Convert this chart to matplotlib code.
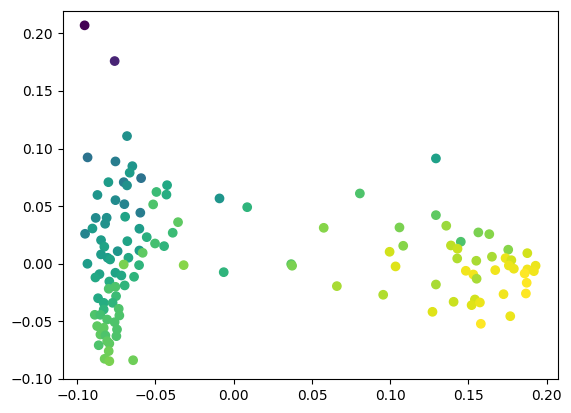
import numpy as np
import matplotlib
matplotlib.use('Agg')
import matplotlib.pyplot as plt

# 2-D projection coordinates
x = [-0.0953, -0.0761, -0.0682, -0.0934, -0.0756, -0.0648, -0.0665, -0.0592, -0.0703, -0.0682,
     -0.0801, -0.0426, -0.0494, -0.0430, -0.0871, -0.0756, -0.0699, -0.0515, -0.0597, -0.0694,
     -0.0882, -0.0812, -0.0822, -0.0903, -0.0950, -0.0603, -0.0356, -0.0390, -0.0556, -0.0848,
     -0.0680, -0.0503, -0.0445, -0.0827, -0.0742, -0.0603, -0.0582, -0.0848, -0.0806, -0.0790,
     -0.0673, -0.0703, -0.0605, -0.0935, -0.0320,
     -0.0858, -0.0884, -0.0756, -0.0718, -0.0637, -0.0795, -0.0756, -0.0799, -0.0697, -0.0752,
     -0.0867, -0.0831, -0.0774, -0.0735, -0.0731, -0.0831, -0.0888, -0.0852, -0.0809, -0.0761,
     -0.0873, -0.0831, -0.0746, -0.0852, -0.0820, -0.0750, -0.0809, -0.0863, -0.0795, -0.0799,
     -0.0825, -0.0795, -0.0643,
     -0.0091, 0.0086, 0.0806, 0.0575, 0.1059, 0.1083, 0.0996, 0.1034, -0.0064, 0.0367,
     0.0373, 0.0659, 0.0955,
     0.1292, 0.1292, 0.1358, 0.1451, 0.1563, 0.1633, 0.1388, 0.1430, 0.1428, 0.1550,
     0.1650, 0.1754, 0.1876, 0.1737, 0.1774, 0.1758, 0.1790, 0.1671, 0.1483, 0.1531,
     0.1552, 0.1929, 0.1876, 0.1918, 0.1859, 0.1872, 0.1867, 0.1724, 0.1292, 0.1405,
     0.1541, 0.1520, 0.1573, 0.1270, 0.1767, 0.1579]

y = [0.2069, 0.1759, 0.1108, 0.0923, 0.0888, 0.0847, 0.0790, 0.0743, 0.0708, 0.0680,
     0.0708, 0.0682, 0.0623, 0.0600, 0.0597, 0.0552, 0.0517, 0.0515, 0.0443, 0.0408,
     0.0398, 0.0399, 0.0347, 0.0306, 0.0260, 0.0304, 0.0361, 0.0269, 0.0231, 0.0205,
     0.0196, 0.0176, 0.0153, 0.0148, 0.0109, 0.0115, 0.0095, 0.0081, 0.0052, 0.0037,
     0.0052, -0.0006, -0.0012, 0.0000, -0.0012,
     -0.0090, -0.0119, -0.0078, -0.0102, -0.0113, -0.0154, -0.0200, -0.0217, -0.0188, -0.0281,
     -0.0299, -0.0339, -0.0339, -0.0391, -0.0449, -0.0397, -0.0443, -0.0443, -0.0484, -0.0507,
     -0.0541, -0.0556, -0.0570, -0.0614, -0.0622, -0.0628, -0.0672, -0.0707, -0.0692, -0.0758,
     -0.0825, -0.0845, -0.0837,
     0.0567, 0.0491, 0.0610, 0.0312, 0.0315, 0.0156, 0.0104, -0.0023, -0.0073, -0.0003,
     -0.0017, -0.0194, -0.0269,
     0.0914, 0.0422, 0.0330, 0.0191, 0.0272, 0.0257, 0.0159, 0.0130, 0.0046, 0.0026,
     0.0061, 0.0122, 0.0092, 0.0049, 0.0031, -0.0015, -0.0043, -0.0055, -0.0061, -0.0093,
     -0.0130, -0.0017, -0.0049, -0.0064, -0.0084, -0.0165, -0.0258, -0.0264, -0.0180, -0.0330,
     -0.0310, -0.0359, -0.0336, -0.0417, -0.0455, -0.0521]

# colour value (0..1 on viridis) estimated per point
c = [0.00, 0.10, 0.50, 0.38, 0.42, 0.52, 0.55, 0.38, 0.42, 0.50,
     0.55, 0.60, 0.68, 0.62, 0.52, 0.48, 0.45, 0.72, 0.42, 0.58,
     0.48, 0.50, 0.50, 0.55, 0.45, 0.55, 0.75, 0.68, 0.63, 0.55,
     0.58, 0.70, 0.65, 0.58, 0.52, 0.55, 0.75, 0.55, 0.55, 0.58,
     0.60, 0.80, 0.65, 0.55, 0.82,
     0.58, 0.60, 0.58, 0.60, 0.65, 0.62, 0.72, 0.72, 0.65, 0.68,
     0.60, 0.62, 0.65, 0.72, 0.72, 0.65, 0.72, 0.70, 0.72, 0.72,
     0.75, 0.75, 0.72, 0.75, 0.72, 0.72, 0.75, 0.72, 0.75, 0.78,
     0.78, 0.80, 0.78,
     0.52, 0.65, 0.72, 0.82, 0.80, 0.82, 0.93, 0.95, 0.65, 0.75,
     0.80, 0.87, 0.88,
     0.57, 0.75, 0.85, 0.72, 0.80, 0.82, 0.90, 0.92, 0.88, 0.87,
     0.87, 0.82, 0.93, 0.97, 0.93, 0.97, 0.97, 0.98, 0.98, 0.98,
     0.87, 0.97, 0.98, 0.98, 1.00, 1.00, 1.00, 0.98, 0.87, 0.92,
     0.93, 0.95, 0.97, 0.95, 0.97, 1.00]

fig = plt.figure(figsize=(5.71, 4.13), dpi=100)
ax = fig.add_axes([62.7/571, 34/413, 495.6/571, 368.3/413])
ax.scatter(x, y, c=c, cmap='viridis', vmin=0, vmax=1)
ax.set_xlim(-0.1093, 0.2074)
ax.set_ylim(-0.10, 0.2196)
ax.set_xticks([-0.10, -0.05, 0.00, 0.05, 0.10, 0.15, 0.20])
ax.set_yticks([-0.10, -0.05, 0.00, 0.05, 0.10, 0.15, 0.20])
fig.savefig('out.png', dpi=100)
